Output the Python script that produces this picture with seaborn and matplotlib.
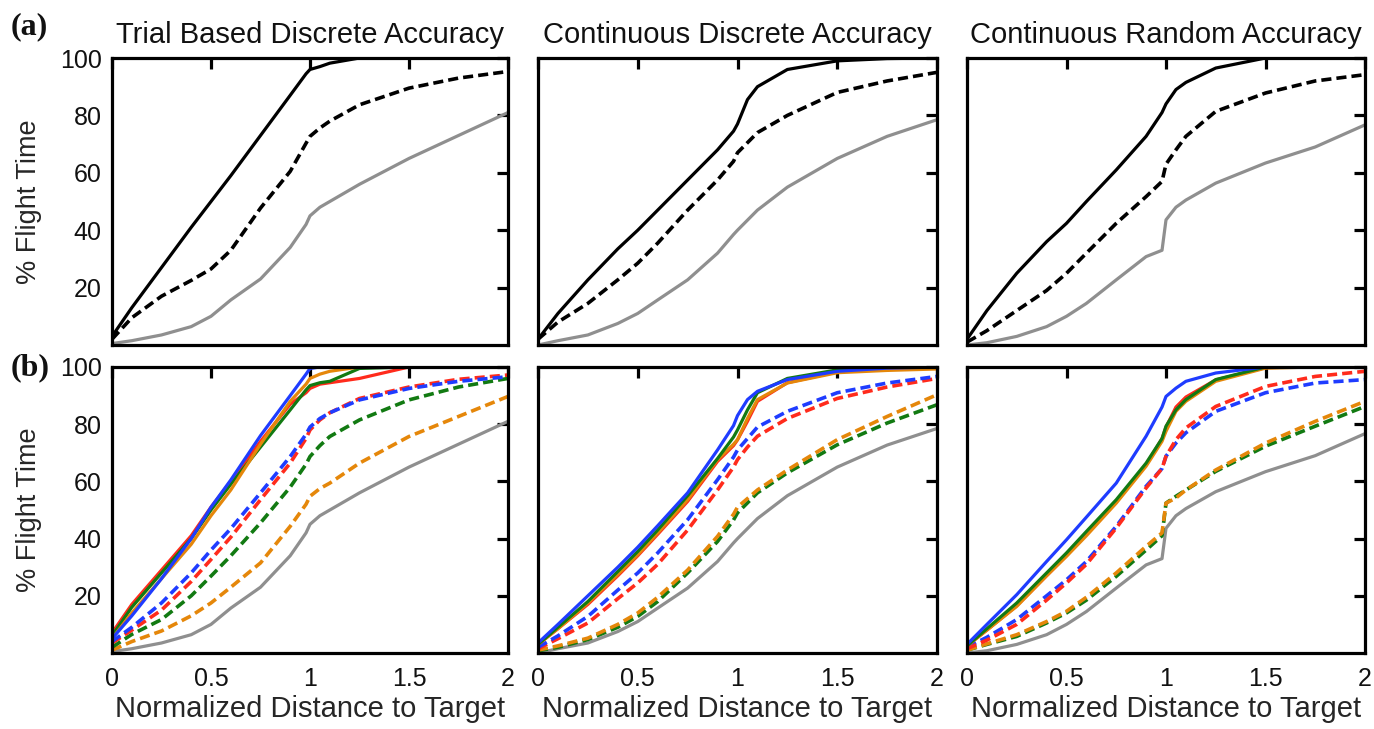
"""Flight time vs normalized distance to target — 2x3 panel figure."""

import matplotlib
matplotlib.use("Agg")
import matplotlib.pyplot as plt
import seaborn as sns

# ── data ──────────────────────────────────────────────────────────────────
DIST = [0, 0.1, 0.25, 0.4, 0.5, 0.6, 0.75, 0.9, 0.98, 1.0, 1.05, 1.1, 1.25, 1.5, 1.75, 2.0]

TITLES = ["Trial Based Discrete Accuracy", "Continuous Discrete Accuracy",
          "Continuous Random Accuracy"]
X_TICKS = [0, 0.5, 1, 1.5, 2]
X_TICKLABELS = ["0", "0.5", "1", "1.5", "2"]
Y_TICKS = [20, 40, 60, 80, 100]

# row (a): black solid / black dashed / gray reference
TB_SOLID = [3, 13, 27, 41, 50, 59, 73, 87, 94.5, 96, 97, 98.2, 100, 100, 100, 100]
TB_DASH = [2, 9.5, 17, 22.5, 26.5, 33, 47.7, 60.5, 70.3, 72.7, 75.6, 78, 83.7, 89.5, 93, 95.3]
TB_GRAY = [0.5, 1.5, 3.5, 6.4, 10, 15.7, 23, 34, 42, 45, 48, 50, 56, 65, 73, 81]

CD_SOLID = [2, 11, 22.7, 33.5, 40, 47, 57.5, 68, 74.5, 77, 85.5, 90, 96, 99, 99.8, 100]
CD_DASH = [2, 8, 14.5, 22.7, 28.5, 35.5, 47, 57.5, 64, 67, 70.5, 74, 80, 88, 92, 95]
CD_GRAY = [0, 1.5, 3.5, 7.5, 11, 15.7, 22.7, 32, 38.5, 40, 43.5, 47, 55, 65, 72.7, 78.5]

CR_SOLID = [2, 12, 25, 36, 42.4, 50, 61, 72.7, 81, 84, 89, 91.5, 96.5, 100, 100, 100]
CR_DASH = [1, 5, 12, 19, 25, 32, 42.4, 51.7, 57, 63, 68, 72.7, 81.4, 87.8, 92, 94.2]
CR_GRAY = [0, 0.8, 3, 6.4, 10, 14.5, 22.7, 30.8, 33, 43.6, 48, 50.5, 56.4, 63.4, 69, 76.7]

# row (b): coloured groups, solid and dashed
TB_BLUE = [5, 13, 26, 40, 51, 60.5, 76, 90, 97.5, 99.5, 100, 100, 100, 100, 100, 100]
TB_RED = [7, 17, 29, 41, 51, 60, 74, 87, 91, 92.5, 94, 94.5, 96, 100, 100, 100]
TB_GREEN = [6, 16, 28, 40, 50, 59, 72, 85, 92, 93.5, 94.5, 95, 99.5, 100, 100, 100]
TB_ORANGE = [5, 14, 26, 38, 48, 57, 73, 88, 94, 96, 97.5, 98.5, 100, 100, 100, 100]
TB_BLUE_D = [4, 9, 17.5, 28, 36, 43.5, 56, 68.7, 76.5, 79, 82, 84, 88.5, 92.5, 95, 96.6]
TB_RED_D = [3.5, 8, 15, 25, 32.7, 40.5, 53.6, 66.4, 75, 78, 81.5, 84, 89, 93, 95.7, 97.2]
TB_GREEN_D = [2, 6.5, 11.7, 20, 26.9, 34, 45.5, 58, 66, 68.7, 72.5, 75.7, 81.5, 88.5, 93, 96]
TB_ORANGE_D = [1, 4, 7.7, 13, 17.5, 23, 31.5, 44.3, 52, 54.8, 57.5, 59.4, 66.4, 75.7, 82.7, 89.7]

CD_BLUE = [3.5, 10, 20, 30, 37, 44.5, 56, 71, 79.5, 83, 88.6, 91.5, 95.6, 98.5, 99.6, 100]
CD_RED = [3, 8.5, 17, 27, 34, 41.5, 53, 67, 72.5, 74.5, 81, 88, 94.5, 98.3, 99.3, 99.8]
CD_GREEN = [3, 9, 18, 28.5, 35.5, 43, 55, 68, 75.5, 78, 85, 91, 96, 99, 100, 100]
CD_ORANGE = [3, 8.5, 17.5, 27.5, 34.4, 42, 53.6, 67.6, 73, 74.6, 82, 88.6, 94.4, 98, 98.8, 99.3]
CD_BLUE_D = [2, 6, 12.8, 22, 28, 35, 46.6, 60.6, 68.5, 71, 75, 79, 84.5, 91, 94.4, 96.7]
CD_RED_D = [1.5, 5, 10.5, 19, 24.5, 31, 43, 57, 65, 67.6, 72, 75.8, 82, 89, 93, 96]
CD_GREEN_D = [0.8, 2, 4.7, 9, 12.8, 18, 28, 39, 46.5, 49, 52.5, 56, 63, 72.8, 80.4, 86.8]
CD_ORANGE_D = [1, 2.5, 5.2, 10, 14, 19.5, 29, 40.8, 48.5, 51, 54, 57, 64, 74.6, 82.7, 90.3]

CR_BLUE = [3, 10, 20.4, 32, 39.6, 47.5, 59.4, 75.8, 86, 89.7, 92.6, 95, 97.9, 100, 100, 100]
CR_RED = [2.5, 8, 16.5, 27, 34, 41.5, 52.8, 65.8, 75, 79, 86, 89.5, 95.5, 99.8, 100, 100]
CR_GREEN = [2.5, 8.5, 17.5, 28, 35, 42.5, 53.6, 66.4, 75, 79.3, 85, 88.6, 95.6, 100, 100, 100]
CR_ORANGE = [2.5, 8, 16.3, 27, 33.8, 41, 52.4, 65.3, 74, 77.5, 84.5, 88, 95, 99.6, 100, 100]
CR_BLUE_D = [2, 5.5, 11.7, 20, 25.6, 32, 44.3, 58.3, 64.5, 68.8, 73.4, 77, 84.5, 91, 94.4, 95.6]
CR_RED_D = [1.5, 4.5, 10, 18.5, 24.5, 31, 43.7, 57.7, 64.5, 68.8, 74.6, 78.7, 86.2, 93.2, 96.7, 98.5]
CR_GREEN_D = [1, 3, 5.8, 10.5, 14, 18.5, 26.8, 36, 41, 52.4, 54.8, 57, 63.5, 72.3, 79.3, 86.2]
CR_ORANGE_D = [1, 3.2, 6.4, 11, 14.6, 19.5, 28, 37.3, 42, 52.4, 54.2, 57, 64, 73.4, 81, 88]

# ── style ─────────────────────────────────────────────────────────────────
BLUE = "#1f3cff"
RED = "#ff2b1c"
GREEN = "#127a12"
ORANGE = "#e5870a"
GRAY = "#8f8f8f"
BLACK = "#000000"
DASH = (0, (2.8, 1.4))
LW = 2.3
LW_DASH = 2.6

sns.set_theme(style="white")
plt.rcParams["font.family"] = ["Liberation Sans", "DejaVu Sans"]
plt.rcParams["axes.linewidth"] = 2.3
plt.rcParams["axes.edgecolor"] = "black"
plt.rcParams["text.color"] = "#111111"

fig = plt.figure(figsize=(13.74, 7.29), dpi=100)

W, H = 1374, 729
cols = [(112, 508), (538, 937), (967, 1365)]
rows = [(58, 345), (367, 653)]


def make_ax(r, c):
    x0, x1 = cols[c]
    y0, y1 = rows[r]
    return fig.add_axes([x0 / W, 1 - y1 / H, (x1 - x0) / W, (y1 - y0) / H])


def style_ax(ax, r, c):
    ax.set_xlim(0, 2)
    ax.set_ylim(0, 100)
    ax.set_xticks(X_TICKS)
    ax.set_yticks(Y_TICKS)
    ax.tick_params(direction="in", length=8, width=2.3, top=True, right=True,
                   labelsize=18, colors="black", labelcolor="#111111")
    ax.tick_params(axis="x", pad=10)
    ax.tick_params(axis="y", pad=7.5)
    ax.set_xlabel("")
    ax.set_ylabel("")
    if r == 1:
        ax.set_xticklabels(X_TICKLABELS)
        ax.set_xlabel("Normalized Distance to Target", fontsize=21, labelpad=3)
    else:
        ax.set_xticklabels([])
        ax.set_title(TITLES[c], fontsize=21, pad=11)
    if c == 0:
        ax.set_yticklabels([str(v) for v in Y_TICKS])
        ax.set_ylabel("% Flight Time", fontsize=19.5)
        ax.yaxis.set_label_coords(-0.177, 0.5)
    else:
        ax.set_yticklabels([])


def line(ax, y, color, dashed=False):
    if dashed:
        sns.lineplot(x=DIST, y=y, ax=ax, color=color, lw=LW_DASH, linestyle=DASH)
    else:
        sns.lineplot(x=DIST, y=y, ax=ax, color=color, lw=LW)


top = [(TB_SOLID, TB_DASH, TB_GRAY), (CD_SOLID, CD_DASH, CD_GRAY),
       (CR_SOLID, CR_DASH, CR_GRAY)]
bottom = [
    (TB_GRAY, [TB_ORANGE_D, TB_GREEN_D, TB_RED_D, TB_BLUE_D],
     [TB_RED, TB_GREEN, TB_ORANGE, TB_BLUE]),
    (CD_GRAY, [CD_GREEN_D, CD_ORANGE_D, CD_RED_D, CD_BLUE_D],
     [CD_RED, CD_ORANGE, CD_GREEN, CD_BLUE]),
    (CR_GRAY, [CR_GREEN_D, CR_ORANGE_D, CR_BLUE_D, CR_RED_D],
     [CR_RED, CR_ORANGE, CR_GREEN, CR_BLUE]),
]
dash_colors = [[ORANGE, GREEN, RED, BLUE], [GREEN, ORANGE, RED, BLUE],
               [GREEN, ORANGE, BLUE, RED]]
solid_colors = [[RED, GREEN, ORANGE, BLUE], [RED, ORANGE, GREEN, BLUE],
                [RED, ORANGE, GREEN, BLUE]]

for c in range(3):
    ax = make_ax(0, c)
    solid, dash, gray = top[c]
    line(ax, gray, GRAY)
    line(ax, dash, BLACK, dashed=True)
    line(ax, solid, BLACK)
    style_ax(ax, 0, c)

    ax = make_ax(1, c)
    gray, dashes, solids = bottom[c]
    line(ax, gray, GRAY)
    for y, col in zip(dashes, dash_colors[c]):
        line(ax, y, col, dashed=True)
    for y, col in zip(solids, solid_colors[c]):
        line(ax, y, col)
    style_ax(ax, 1, c)

    for a in fig.axes[-2:]:
        for sp in a.spines.values():
            sp.set_visible(True)
            sp.set_zorder(5)

# panel letters
fig.text(11 / W, 1 - 27 / H, "(a)", fontsize=23, fontweight="bold",
         family=["Liberation Serif", "DejaVu Serif"], va="center", ha="left")
fig.text(11 / W, 1 - 368 / H, "(b)", fontsize=23, fontweight="bold",
         family=["Liberation Serif", "DejaVu Serif"], va="center", ha="left")

fig.savefig("out.png", dpi=100)
